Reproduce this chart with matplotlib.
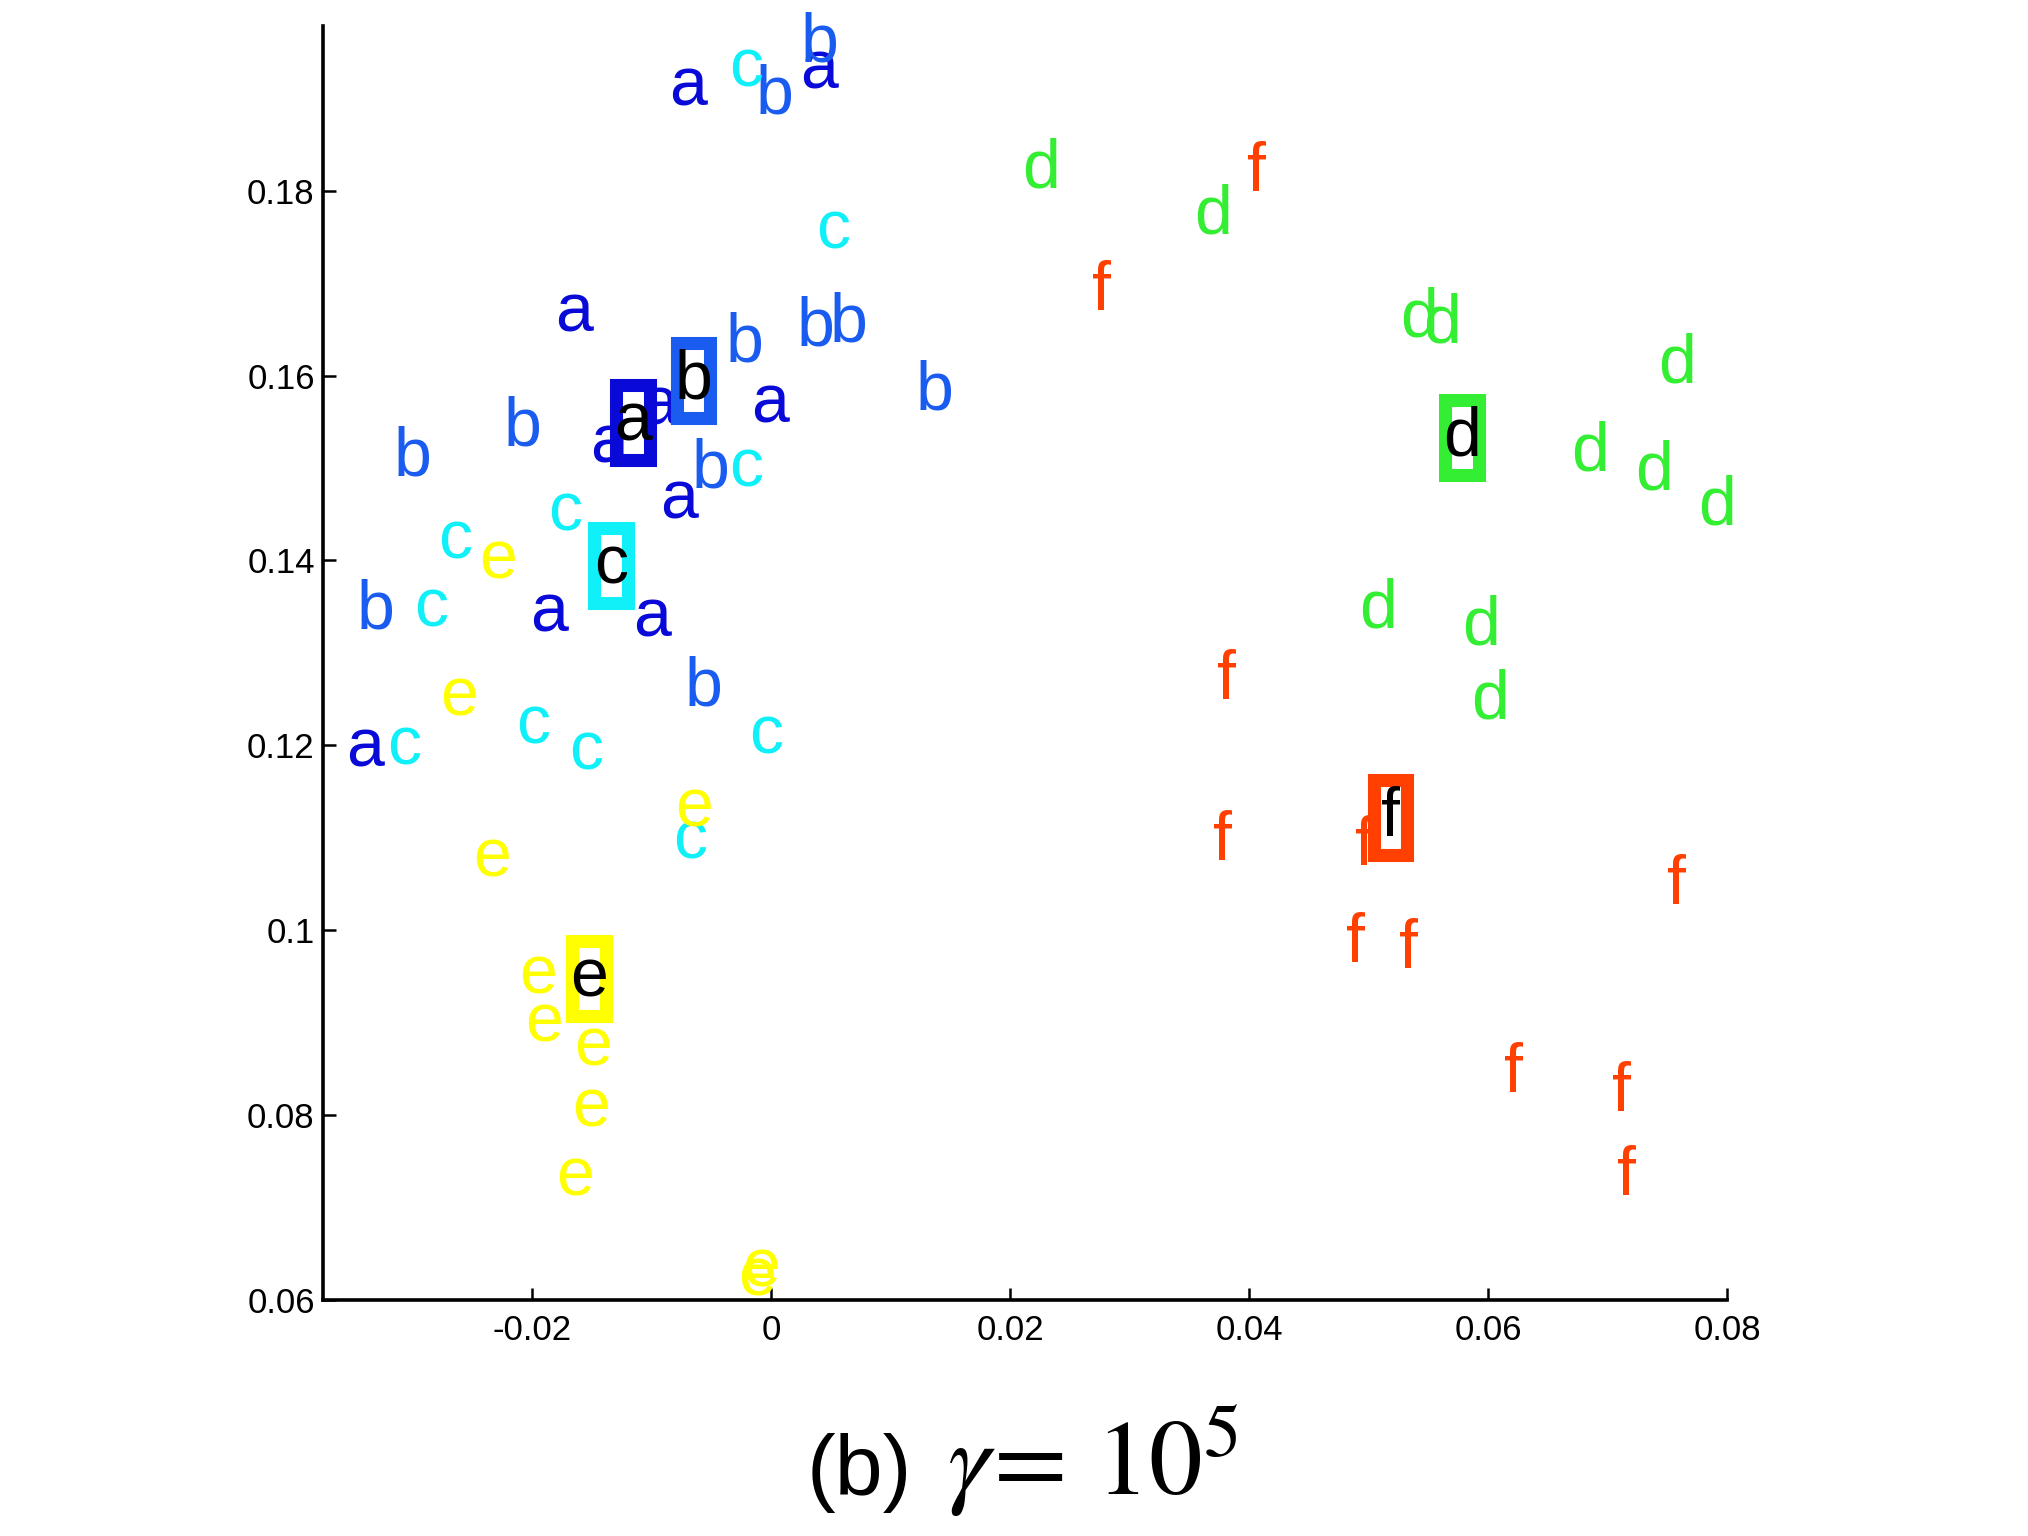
import matplotlib
matplotlib.use('Agg')
import matplotlib.pyplot as plt
from matplotlib.patches import Rectangle
from matplotlib.ticker import FuncFormatter

plt.rcParams['font.family'] = ['Liberation Sans', 'DejaVu Sans']
plt.rcParams['mathtext.fontset'] = 'stix'
plt.rcParams['axes.unicode_minus'] = False

labels = ['a', 'b', 'c', 'd', 'e', 'f']
colors = ['#0a0ad8', '#1a5cf0', '#10f0f8', '#33ee33', '#ffff00', '#ff4000']

a_x = [-0.00697, 0.00401, -0.01650, -0.00011, -0.00942, -0.01353, -0.00772, -0.01857, -0.00996, -0.03399]
a_y = [0.19119, 0.19301, 0.16671, 0.15692, 0.15664, 0.15259, 0.14649, 0.13427, 0.13371, 0.11964]
b_x = [0.00401, 0.00032, -0.00227, 0.00368, 0.00650, 0.01364, -0.02999, -0.02083, -0.00509, -0.03313, -0.00568]
b_y = [0.19587, 0.19028, 0.16350, 0.16523, 0.16559, 0.15832, 0.15119, 0.15440, 0.14979, 0.13460, 0.12629]
c_x = [-0.00211, 0.00520, -0.00211, -0.01724, -0.02641, -0.02847, -0.01993, -0.01548, -0.00043, -0.03070, -0.00682]
c_y = [0.19317, 0.17566, 0.14993, 0.14523, 0.14217, 0.13483, 0.12217, 0.11930, 0.12112, 0.11986, 0.10972]
d_x = [0.02259, 0.03699, 0.05420, 0.05618, 0.07584, 0.06852, 0.07391, 0.07917, 0.05077, 0.05943, 0.06018]
d_y = [0.18229, 0.17734, 0.16615, 0.16554, 0.16120, 0.15168, 0.14965, 0.14587, 0.13469, 0.13287, 0.12481]
e_x = [-0.02284, -0.02613, -0.00643, -0.02334, -0.01949, -0.01900, -0.01494, -0.01508, -0.01645, -0.00119, -0.00087]
e_y = [0.14000, 0.12523, 0.11315, 0.10775, 0.09510, 0.08993, 0.08727, 0.08070, 0.07331, 0.06241, 0.06339]
f_x = [0.04059, 0.02767, 0.03807, 0.03776, 0.04967, 0.07578, 0.04886, 0.05335, 0.06209, 0.07112, 0.07162]
f_y = [0.18189, 0.16909, 0.12691, 0.10955, 0.10903, 0.10480, 0.09853, 0.09790, 0.08447, 0.08238, 0.07333]

# class centres (boxed)
center_x = [-0.01158, -0.00650, -0.01342, 0.05781, -0.01526, 0.05185]
center_y = [0.15497, 0.15944, 0.13944, 0.15329, 0.09476, 0.11217]

xs = [a_x, b_x, c_x, d_x, e_x, f_x]
ys = [a_y, b_y, c_y, d_y, e_y, f_y]

fig = plt.figure(figsize=(10.14, 7.68), dpi=200)
ax = fig.add_axes([0.1593, 0.1536, 0.6923, 0.8294])

for lab, col, px, py in zip(labels, colors, xs, ys):
    for x, y in zip(px, py):
        ax.text(x, y, lab, color=col, fontsize=24.5, ha='center', va='center', zorder=2)

box_w = 0.00281
box_h = 0.0081
for lab, col, cx, cy in zip(labels, colors, center_x, center_y):
    ax.add_patch(Rectangle((cx - box_w / 2, cy - box_h / 2), box_w, box_h,
                           fill=False, edgecolor=col, linewidth=4.7, zorder=3))
    ax.text(cx, cy, lab, color='black', fontsize=24.5, ha='center', va='center', zorder=4)

ax.set_xlim(-0.0375, 0.08)
ax.set_ylim(0.06, 0.1978)
ax.set_xticks([-0.02, 0, 0.02, 0.04, 0.06, 0.08])
ax.set_yticks([0.06, 0.08, 0.1, 0.12, 0.14, 0.16, 0.18])
fmt = FuncFormatter(lambda v, p: '%g' % round(v, 4))
ax.xaxis.set_major_formatter(fmt)
ax.yaxis.set_major_formatter(fmt)
ax.tick_params(direction='in', length=4.5, width=0.9, labelsize=12.5)
ax.tick_params(axis='y', pad=3)
ax.tick_params(axis='x', pad=5)

ax.spines['top'].set_visible(False)
ax.spines['right'].set_visible(False)
ax.spines['left'].set_linewidth(1.3)
ax.spines['bottom'].set_linewidth(1.3)

# caption: sans "(b)" followed by the math part in a serif face
fig.text(0.4497, 0.027, '(b)', ha='right', va='baseline', fontsize=31)
fig.text(0.467, 0.027, r'$\gamma\!=\,10^5$', ha='left', va='baseline', fontsize=38.5)

fig.savefig('out.png', dpi=200)
